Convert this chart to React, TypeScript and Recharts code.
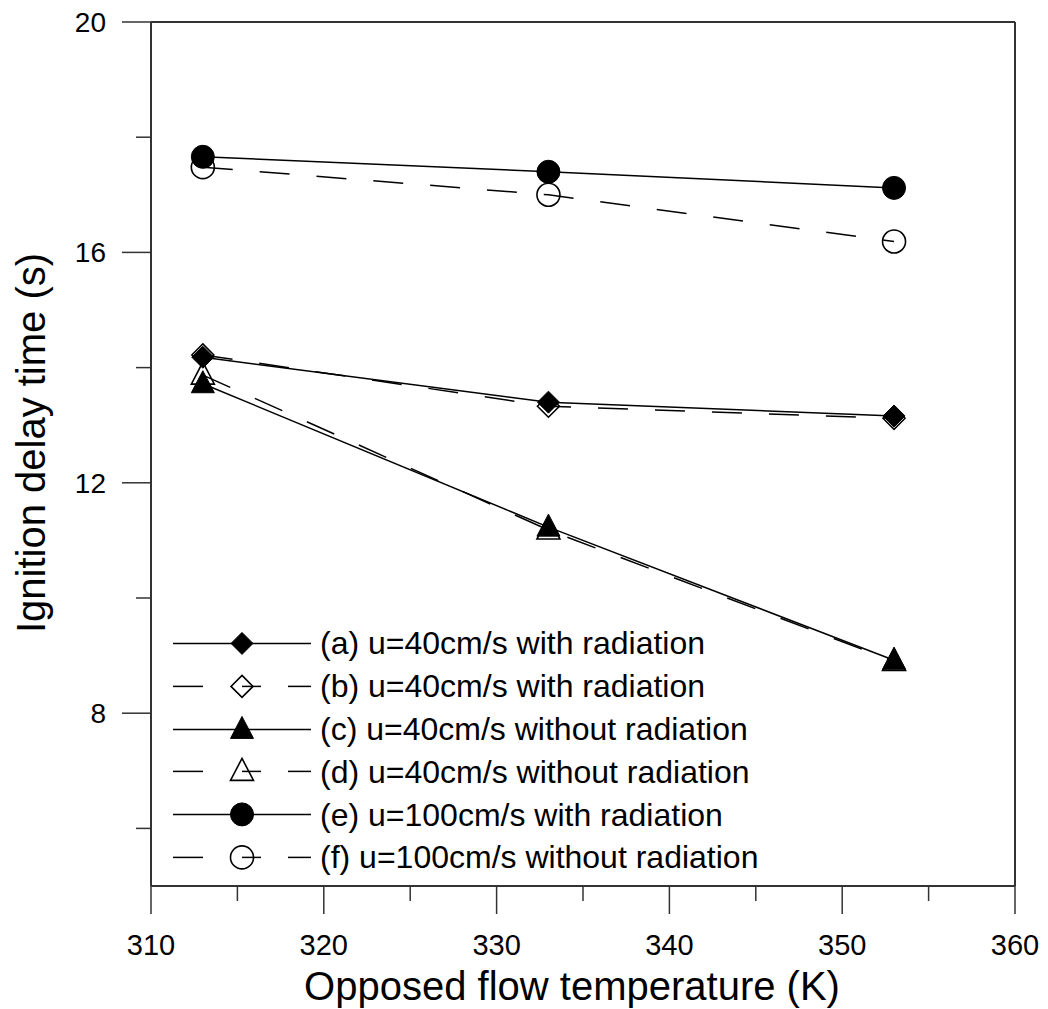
import React from 'react';
import { LineChart, Line, XAxis, YAxis, Legend, ReferenceLine } from 'recharts';

// opposed flow temperature (K)
const temps = [313, 333, 353];

// ignition delay time (s)
const aWithRad40 = [14.18, 13.4, 13.16];
const bWithRad40 = [14.22, 13.33, 13.12];
const cNoRad40 = [13.72, 11.23, 8.92];
const dNoRad40 = [13.87, 11.18, 8.9];
const eWithRad100 = [17.66, 17.4, 17.12];
const fNoRad100 = [17.48, 17.0, 16.19];

const xTicks = [310, 315, 320, 325, 330, 335, 340, 345, 350, 355, 360];
const yTicks = [6, 8, 10, 12, 14, 16, 18, 20];
const xLabelled = [310, 320, 330, 340, 350, 360];
const yLabelled = [8, 12, 16, 20];

const legendItems = [
    { key: 'a', name: '(a) u=40cm/s with radiation', shape: 'diamond', filled: true },
    { key: 'b', name: '(b) u=40cm/s with radiation', shape: 'diamond', filled: false },
    { key: 'c', name: '(c) u=40cm/s without radiation', shape: 'triangle', filled: true },
    { key: 'd', name: '(d) u=40cm/s without radiation', shape: 'triangle', filled: false },
    { key: 'e', name: '(e) u=100cm/s with radiation', shape: 'circle', filled: true },
    { key: 'f', name: '(f) u=100cm/s without radiation', shape: 'circle', filled: false },
];

const data = temps.map((t, i) => ({
    t,
    a: aWithRad40[i],
    b: bWithRad40[i],
    c: cNoRad40[i],
    d: dNoRad40[i],
    e: eWithRad100[i],
    f: fNoRad100[i],
}));

const FONT = '"Liberation Sans", Arial, sans-serif';
const DASH = '30 27';

const markerShape = (shape: string, filled: boolean, cx: number, cy: number, key?: any) => {
    const fill = filled ? '#000' : 'none';
    const sw = filled ? 1 : 1.6;
    if (shape === 'diamond') {
        const r = 11;
        return <polygon key={key} points={`${cx},${cy - r} ${cx + r},${cy} ${cx},${cy + r} ${cx - r},${cy}`} fill={fill} stroke="#000" strokeWidth={sw} />;
    }
    if (shape === 'triangle') {
        return <polygon key={key} points={`${cx},${cy - 13} ${cx + 11.5},${cy + 9} ${cx - 11.5},${cy + 9}`} fill={fill} stroke="#000" strokeWidth={sw} />;
    }
    return <circle key={key} cx={cx} cy={cy} r={11.5} fill={fill} stroke="#000" strokeWidth={sw} />;
};

const dotFor = (shape: string, filled: boolean) => (props: any) =>
    markerShape(shape, filled, props.cx, props.cy, `${shape}-${filled}-${props.index}`);

const XTick = ({ x, y, payload }: any) => {
    const major = xLabelled.includes(payload.value);
    return (
        <g>
            <line x1={x} x2={x} y1={y} y2={y + (major ? 28 : 15)} stroke="#333" strokeWidth={1.5} />
            {major && (
                <text x={x} y={y + 69} textAnchor="middle" fontFamily={FONT} fontSize={29} fill="#000">
                    {payload.value}
                </text>
            )}
        </g>
    );
};

const YTick = ({ x, y, payload }: any) => {
    const major = yLabelled.includes(payload.value);
    return (
        <g>
            <line x1={x - (major ? 29 : 15)} x2={x} y1={y} y2={y} stroke="#333" strokeWidth={1.5} />
            {major && (
                <text x={x - 45} y={y} dy={10} textAnchor="end" fontFamily={FONT} fontSize={28} fill="#000">
                    {payload.value}
                </text>
            )}
        </g>
    );
};

const xTitle = () => (
    <text x={572} y={1000} textAnchor="middle" fontFamily={FONT} fontSize={40} fill="#000">
        Opposed flow temperature (K)
    </text>
);

const yTitle = () => (
    <text x={45} y={443} transform="rotate(-90 45 443)" textAnchor="middle" fontFamily={FONT} fontSize={40} fill="#000">
        Ignition delay time (s)
    </text>
);

const LegendBox = () => (
    <div style={{ fontFamily: FONT, fontSize: 32, color: '#000' }}>
        {legendItems.map((it) => (
            <div key={it.key} style={{ display: 'flex', alignItems: 'center', height: 42.8 }}>
                <svg width={160} height={42.8} style={{ display: 'block' }}>
                    {it.filled ? (
                        <line x1={13} x2={151} y1={21.4} y2={21.4} stroke="#000" strokeWidth={1.5} />
                    ) : (
                        <g stroke="#000" strokeWidth={1.5}>
                            <line x1={13} x2={43} y1={21.4} y2={21.4} />
                            <line x1={82} x2={101} y1={21.4} y2={21.4} />
                            <line x1={128} x2={151} y1={21.4} y2={21.4} />
                        </g>
                    )}
                    {markerShape(it.shape, it.filled, 82, 21.4)}
                </svg>
                <span style={{ whiteSpace: 'nowrap', lineHeight: 1 }}>{it.name}</span>
            </div>
        ))}
    </div>
);

export default function App() {
    return (
        <div style={{ position: 'absolute', left: 0, top: 0, background: '#fff' }}>
            <LineChart width={1048} height={1009} data={data} margin={{ top: 22, right: 33, bottom: 0, left: 0 }}>
                <XAxis
                    type="number"
                    dataKey="t"
                    domain={[310, 360]}
                    ticks={xTicks}
                    height={123}
                    tickSize={0}
                    tickMargin={0}
                    tickLine={false}
                    tick={<XTick />}
                    axisLine={{ stroke: '#333', strokeWidth: 2 }}
                    label={xTitle}
                    interval={0}
                />
                <YAxis
                    type="number"
                    domain={[5, 20]}
                    ticks={yTicks}
                    width={151}
                    tickSize={0}
                    tickMargin={0}
                    tickLine={false}
                    tick={<YTick />}
                    axisLine={{ stroke: '#333', strokeWidth: 2 }}
                    label={yTitle}
                    interval={0}
                />
                <ReferenceLine y={20} stroke="#333" strokeWidth={2} />
                <ReferenceLine x={360} stroke="#333" strokeWidth={2} />
                <Legend
                    layout="horizontal"
                    verticalAlign="middle"
                    align="center"
                    content={<LegendBox />}
                    wrapperStyle={{ left: 160, top: 622, width: 680, height: 260 }}
                />
                {/* open markers first so the filled ones sit on top */}
                <Line dataKey="b" stroke="#000" strokeWidth={1.5} strokeDasharray={DASH} dot={dotFor('diamond', false)} isAnimationActive={false} />
                <Line dataKey="d" stroke="#000" strokeWidth={1.5} strokeDasharray={DASH} dot={dotFor('triangle', false)} isAnimationActive={false} />
                <Line dataKey="f" stroke="#000" strokeWidth={1.5} strokeDasharray={DASH} dot={dotFor('circle', false)} isAnimationActive={false} />
                <Line dataKey="a" stroke="#000" strokeWidth={1.5} dot={dotFor('diamond', true)} isAnimationActive={false} />
                <Line dataKey="c" stroke="#000" strokeWidth={1.5} dot={dotFor('triangle', true)} isAnimationActive={false} />
                <Line dataKey="e" stroke="#000" strokeWidth={1.5} dot={dotFor('circle', true)} isAnimationActive={false} />
            </LineChart>
        </div>
    );
}
